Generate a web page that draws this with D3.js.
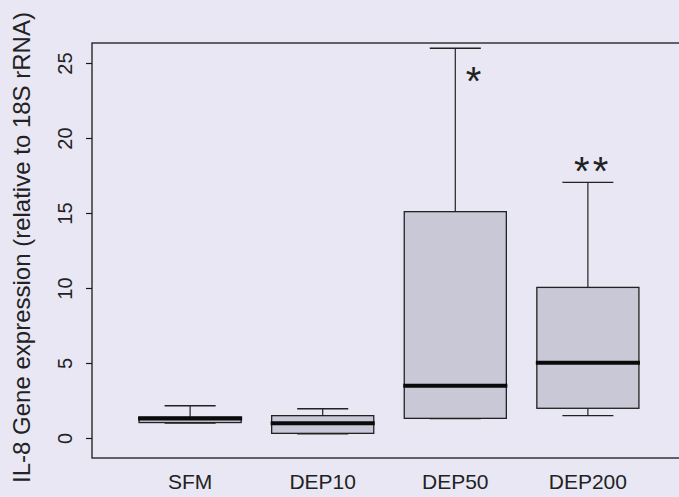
<!DOCTYPE html>
<html>
<head>
<meta charset="utf-8">
<script src="https://cdn.jsdelivr.net/npm/d3@7"></script>
<style>
  html, body { margin: 0; padding: 0; background: #e9e7f4; }
  svg { display: block; }
</style>
</head>
<body>
<div id="chart"></div>
<script>
// box plot values
const groups = ['SFM', 'DEP10', 'DEP50', 'DEP200'];
const lowerWhisker = [1.0, 0.28, 1.3, 1.49];
const q1 = [1.03, 0.31, 1.31, 1.98];
const median = [1.3, 0.98, 3.49, 5.02];
const q3 = [1.4, 1.49, 15.09, 10.04];
const upperWhisker = [2.15, 1.95, 25.98, 17.04];
const yTicks = [0, 5, 10, 15, 20, 25];
const stars = ['', '', '*', '**'];
const starValue = [0, 0, 24.2, 18.2];

const width = 679;
const height = 497;
const frame = { left: 92, top: 43, right: 686, bottom: 458 };

const svg = d3.select('#chart')
  .append('svg')
  .attr('width', width)
  .attr('height', height)
  .style('font-family', '"Liberation Sans", Arial, sans-serif');

svg.append('rect')
  .attr('width', width)
  .attr('height', height)
  .attr('fill', '#e9e7f4');

// positions 1..4, with the R boxplot style extension at both ends
const x = d3.scaleLinear()
  .domain([0.26, 4.74])
  .range([frame.left, frame.right]);

const y = d3.scaleLinear()
  .domain([0, 25])
  .range([438, 63]);

const data = groups.map((g, i) => ({
  name: g,
  pos: i + 1,
  lo: lowerWhisker[i],
  q1: q1[i],
  med: median[i],
  q3: q3[i],
  hi: upperWhisker[i],
  star: stars[i],
  starV: starValue[i]
}));

const boxW = 0.77;
const capW = boxW / 2;

// frame
svg.append('rect')
  .attr('x', frame.left)
  .attr('y', frame.top)
  .attr('width', frame.right - frame.left)
  .attr('height', frame.bottom - frame.top)
  .attr('fill', 'none')
  .attr('stroke', '#1a1a1a')
  .attr('stroke-width', 1.3);

// y axis, labels turned like R's las=0
const axisY = d3.axisLeft(y)
  .tickValues(yTicks)
  .tickSize(6)
  .tickFormat(d3.format('d'));

const gy = svg.append('g')
  .attr('transform', `translate(${frame.left}, 0)`)
  .call(axisY);

gy.select('.domain').remove();
gy.selectAll('line').attr('stroke', '#1a1a1a').attr('stroke-width', 1.2);
gy.selectAll('text')
  .attr('fill', '#222')
  .attr('font-size', 20)
  .attr('text-anchor', 'middle')
  .attr('x', 0)
  .attr('y', 0)
  .attr('dy', null)
  .attr('transform', 'translate(-20, 0) rotate(-90)');

svg.append('text')
  .attr('transform', `translate(30, ${(frame.top + frame.bottom) / 2 - 3}) rotate(-90)`)
  .attr('text-anchor', 'middle')
  .attr('font-size', 24)
  .attr('fill', '#222')
  .text('IL-8 Gene expression (relative to 18S rRNA)');

// x labels
svg.selectAll('.xlab')
  .data(data)
  .enter()
  .append('text')
  .attr('class', 'xlab')
  .attr('x', d => x(d.pos))
  .attr('y', 489)
  .attr('text-anchor', 'middle')
  .attr('font-size', 21)
  .attr('fill', '#222')
  .text(d => d.name);

const box = svg.selectAll('.box')
  .data(data)
  .enter()
  .append('g')
  .attr('class', 'box');

// whiskers
box.append('line')
  .attr('x1', d => x(d.pos)).attr('x2', d => x(d.pos))
  .attr('y1', d => y(d.q3)).attr('y2', d => y(d.hi))
  .attr('stroke', '#222').attr('stroke-width', 1.2);
box.append('line')
  .attr('x1', d => x(d.pos)).attr('x2', d => x(d.pos))
  .attr('y1', d => y(d.q1)).attr('y2', d => y(d.lo))
  .attr('stroke', '#222').attr('stroke-width', 1.2);
box.append('line')
  .attr('x1', d => x(d.pos - capW / 2)).attr('x2', d => x(d.pos + capW / 2))
  .attr('y1', d => y(d.hi)).attr('y2', d => y(d.hi))
  .attr('stroke', '#222').attr('stroke-width', 1.4);
box.append('line')
  .attr('x1', d => x(d.pos - capW / 2)).attr('x2', d => x(d.pos + capW / 2))
  .attr('y1', d => y(d.lo)).attr('y2', d => y(d.lo))
  .attr('stroke', '#222').attr('stroke-width', 1.4);

// boxes
box.append('rect')
  .attr('x', d => x(d.pos - boxW / 2))
  .attr('width', x(boxW) - x(0))
  .attr('y', d => y(d.q3))
  .attr('height', d => y(d.q1) - y(d.q3))
  .attr('fill', '#c9c8d6')
  .attr('stroke', '#222')
  .attr('stroke-width', 1.3);

// medians
box.append('line')
  .attr('x1', d => x(d.pos - boxW / 2) - 1).attr('x2', d => x(d.pos + boxW / 2) + 1)
  .attr('y1', d => y(d.med)).attr('y2', d => y(d.med))
  .attr('stroke', '#0a0a0a').attr('stroke-width', 4);

// significance stars
svg.selectAll('.star')
  .data(data.filter(d => d.star))
  .enter()
  .append('text')
  .attr('class', 'star')
  .attr('x', d => x(d.pos) + (d.star.length === 1 ? 20 : 5))
  .attr('y', d => y(d.starV) + 20)
  .attr('text-anchor', 'middle')
  .attr('font-size', 40)
  .attr('letter-spacing', 3.4)
  .attr('fill', '#222')
  .text(d => d.star);
</script>
</body>
</html>
